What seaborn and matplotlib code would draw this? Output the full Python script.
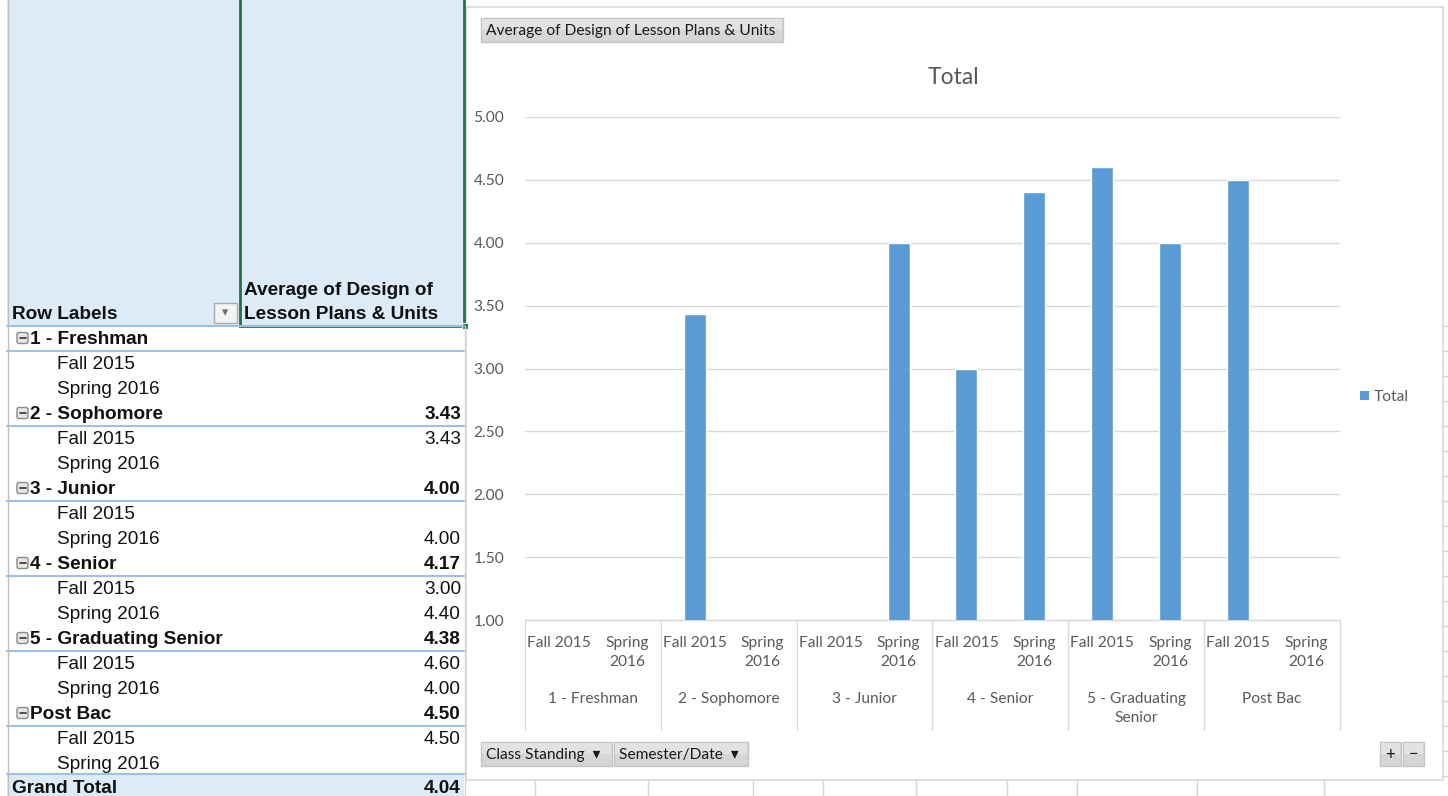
import numpy as np
import pandas as pd
import matplotlib
matplotlib.use("Agg")
import matplotlib.pyplot as plt
import matplotlib.transforms as mtransforms
from matplotlib.patches import Rectangle, FancyBboxPatch, Patch
import seaborn as sns

# ---- data -------------------------------------------------------------
classes = ["1 - Freshman", "2 - Sophomore", "3 - Junior", "4 - Senior",
           "5 - Graduating Senior", "Post Bac"]
class_axis_labels = ["1 - Freshman", "2 - Sophomore", "3 - Junior", "4 - Senior",
                     "5 - Graduating\nSenior", "Post Bac"]
semesters = ["Fall 2015", "Spring 2016"]
semester_axis_labels = ["Fall 2015", "Spring\n2016"]
fall_values = [None, 3.43, None, 3.00, 4.60, 4.50]
spring_values = [None, None, 4.00, 4.40, 4.00, None]
class_totals = [None, 3.43, 4.00, 4.17, 4.38, 4.50]
grand_total = 4.04
yticks = [1.00, 1.50, 2.00, 2.50, 3.00, 3.50, 4.00, 4.50, 5.00]

# ---- long table for seaborn ----------------------------------------------
keys, rows = [], []
for c, fv, sv in zip(classes, fall_values, spring_values):
    for s, v in zip(semesters, (fv, sv)):
        k = f"{c}|{s}"
        keys.append(k)
        if v is not None:
            rows.append({"key": k, "value": v})
df = pd.DataFrame(rows)

sns.set_theme(style="white")
plt.rcParams["font.family"] = ["Lato", "DejaVu Sans"]

W, H = 1448, 796
fig = plt.figure(figsize=(W / 100, H / 100), dpi=100)
fig.patch.set_facecolor("white")
# pixel coordinates, origin at top-left
PX = mtransforms.Affine2D().scale(1 / W, -1 / H).translate(0, 1) + fig.transFigure

GRAY_TXT = "#595959"
GRID = "#D9D9D9"
BAR = "#5B9BD5"
HDR_FILL = "#DDEBF7"
SEP = "#9BC2E6"
TABLE_FONT = ["Liberation Sans", "DejaVu Sans"]
TFS = 13.7
CFS = 11.2


def rect(x0, y0, x1, y1, **kw):
    r = Rectangle((x0, y0), x1 - x0, y1 - y0, transform=PX, **kw)
    fig.add_artist(r)
    return r


def hline(y, x0, x1, **kw):
    fig.add_artist(plt.Line2D([x0, x1], [y, y], transform=PX, **kw))


def vline(x, y0, y1, **kw):
    fig.add_artist(plt.Line2D([x, x], [y0, y1], transform=PX, **kw))


def ttext(x, y, s, bold=False, ha="left"):
    fig.text(x, y + 1.5, s, transform=PX, family=TABLE_FONT, fontsize=TFS,
             fontweight="bold" if bold else "normal", va="center", ha=ha,
             color="#111111")


# ---- pivot table (left) ------------------------------------------------
rect(7, 0, 464, 326, facecolor=HDR_FILL, edgecolor="none")
vline(7.5, 0, 796, color="#BFBFBF", lw=1)
vline(464.5, 326, 796, color="#D4D4D4", lw=1)

ttext(12, 313, "Row Labels", bold=True)
ttext(244, 289, "Average of Design of", bold=True)
ttext(244, 313, "Lesson Plans & Units", bold=True)

# filter dropdown
rect(214, 303, 237, 323, facecolor="#F4F4F4", edgecolor="#ABABAB", lw=1)
fig.text(225.5, 313, "\u25BE", transform=PX, family=["DejaVu Sans"], fontsize=9,
         ha="center", va="center", color="#707070")

row_h = 25
y = 338
sep_lines = [325.5]
for c, tot, fv, sv in zip(classes, class_totals, fall_values, spring_values):
    # collapse box
    box = FancyBboxPatch((17, y - 5.5), 11, 11, boxstyle="round,pad=0,rounding_size=2",
                         transform=PX, facecolor="#E6E6E6", edgecolor="#8A8A8A", lw=1)
    fig.add_artist(box)
    hline(y, 19.5, 25.5, color="#333333", lw=1.2)
    ttext(30, y, c, bold=True)
    if tot is not None:
        ttext(461, y, f"{tot:.2f}", bold=True, ha="right")
    sep_lines.append(y + 12.5)
    for s, v in zip(semesters, (fv, sv)):
        y += row_h
        ttext(57, y, s)
        if v is not None:
            ttext(461, y, f"{v:.2f}", ha="right")
    y += row_h

# grand total row
rect(7, 774, 464, 800, facecolor=HDR_FILL, edgecolor="none")
sep_lines.append(774)
for ys in sep_lines:
    hline(ys, 7, 464, color=SEP, lw=1.5)
ttext(12, 787, "Grand Total", bold=True)
ttext(461, 787, f"{grand_total:.2f}", bold=True, ha="right")

# selected header cell
rect(240, -3, 464, 326, facecolor="none", edgecolor="#217346", lw=2)
rect(462, 323, 468, 329, facecolor="#217346", edgecolor="white", lw=0.8)

# ---- sheet grid around the chart ---------------------------------------
for x in [534, 647, 752, 822, 915, 1006, 1076, 1196, 1323]:
    vline(x + 0.5, 780, 796, color="#D4D4D4", lw=1)
for yy in range(325, 800, 25):
    hline(yy + 0.5, 1443, 1448, color="#D4D4D4", lw=1)

# ---- chart area --------------------------------------------------------
rect(466, 7, 1443, 780, facecolor="white", edgecolor="#D9D9D9", lw=1.2, zorder=-5)

ax = fig.add_axes([525 / W, 1 - 620 / H, 815 / W, 503 / H])
ax.set_zorder(3)
ax.set_facecolor("none")
sns.barplot(data=df, x="key", y="value", order=keys, color=BAR, saturation=1,
            width=0.325, errorbar=None, ax=ax, zorder=3)
ax.set_xlim(-0.5, len(keys) - 0.5)
ax.set_ylim(yticks[0], yticks[-1])
ax.set_yticks(yticks)
ax.set_yticklabels([f"{t:.2f}" for t in yticks], fontsize=CFS, color=GRAY_TXT)
ax.tick_params(axis="y", length=0, pad=15)
ax.set_xticks([])
ax.set_xlabel("")
ax.set_ylabel("")
ax.yaxis.grid(True, color=GRID, lw=1)
ax.set_axisbelow(True)
for side in ["left", "right", "top"]:
    ax.spines[side].set_visible(False)
ax.spines["bottom"].set_color(GRID)
ax.spines["bottom"].set_linewidth(1)

# two-level category axis
XB = mtransforms.blended_transform_factory(ax.transData, PX)
for b in np.arange(-0.5, len(keys), 2):
    ax.add_artist(plt.Line2D([b, b], [620, 730], transform=XB, color=GRID, lw=1,
                             clip_on=False))
for i, k in enumerate(keys):
    lab = semester_axis_labels[i % 2]
    ax.text(i, 636, lab, transform=XB, ha="center", va="top", fontsize=CFS,
            color=GRAY_TXT, linespacing=1.45, clip_on=False)
for j, lab in enumerate(class_axis_labels):
    ax.text(2 * j + 0.5, 692, lab, transform=XB, ha="center", va="top", fontsize=CFS,
            color=GRAY_TXT, linespacing=1.45, clip_on=False)

# title
fig.text(953, 77, "Total", transform=PX, ha="center", va="center", fontsize=16.5,
         color=GRAY_TXT)

# legend
ax.legend(handles=[Patch(facecolor=BAR, edgecolor="none", label="Total")],
          loc="center left", bbox_to_anchor=(1346, 397), bbox_transform=PX,
          frameon=False, handlelength=0.55, handleheight=0.55, handletextpad=0.35,
          prop={"size": CFS}, labelcolor=GRAY_TXT)


# field buttons
def button(x0, y0, x1, y1, label, tx=None, ha="left", size=CFS):
    rect(x0, y0, x1, y1, facecolor="#D6D6D6", edgecolor="#C4C4C4", lw=1)
    rect(x0 + 1, y0 + 1, x1 - 1, (y0 + y1) / 2, facecolor="#E2E2E2", edgecolor="none")
    fig.text(tx if tx is not None else x0 + 5, (y0 + y1) / 2 + 0.5, label, transform=PX,
             ha=ha, va="center", fontsize=size, color="#1A1A1A")


button(481, 18, 783, 42, "Average of Design of Lesson Plans & Units")
button(481, 742, 612, 766, "Class Standing  \u25BE")
button(614, 742, 748, 766, "Semester/Date  \u25BE")
button(1380, 742, 1401, 766, "+", tx=1390.5, ha="center", size=12)
button(1403, 742, 1424, 766, "\u2212", tx=1413.5, ha="center", size=12)

fig.savefig("out.png", dpi=100, facecolor="white")
